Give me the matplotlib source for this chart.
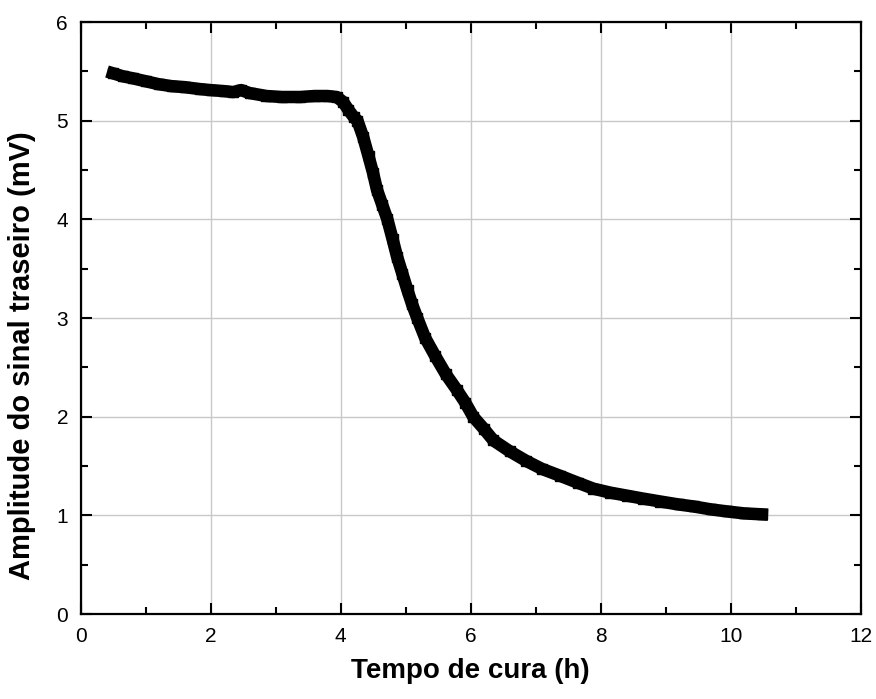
import matplotlib
matplotlib.use("Agg")
import matplotlib.pyplot as plt
from matplotlib.ticker import MultipleLocator

# cure time (h) and back-signal amplitude (mV)
tempo = [0.50, 0.65, 0.80, 1.00, 1.20, 1.40, 1.60, 1.84, 2.00, 2.20,
         2.35, 2.47, 2.60, 2.86, 3.10, 3.38, 3.60, 3.80, 3.94, 4.04,
         4.12, 4.20, 4.26, 4.35, 4.43, 4.50, 4.56, 4.64, 4.72, 4.80,
         4.87, 4.95, 5.03, 5.10, 5.18, 5.30, 5.46, 5.62, 5.79, 5.92,
         6.04, 6.20, 6.35, 6.60, 6.86, 7.10, 7.38, 7.65, 7.89, 8.15,
         8.40, 8.65, 8.92, 9.20, 9.43, 9.70, 9.94, 10.20, 10.48]
amplitude = [5.48, 5.45, 5.43, 5.40, 5.37, 5.35, 5.34, 5.32, 5.31, 5.30,
             5.29, 5.31, 5.28, 5.25, 5.24, 5.24, 5.25, 5.25, 5.24, 5.19,
             5.11, 5.04, 5.00, 4.83, 4.64, 4.47, 4.30, 4.15, 4.00, 3.80,
             3.62, 3.45, 3.28, 3.14, 3.00, 2.80, 2.61, 2.43, 2.27, 2.14,
             2.00, 1.88, 1.76, 1.65, 1.55, 1.47, 1.40, 1.33, 1.27, 1.23,
             1.20, 1.17, 1.14, 1.11, 1.09, 1.06, 1.04, 1.02, 1.01]

plt.rcParams['font.family'] = ['Liberation Sans', 'DejaVu Sans']

fig = plt.figure(figsize=(8.76, 6.99), dpi=100)
ax = fig.add_axes([0.0919, 0.1216, 0.8906, 0.8469])

ax.plot(tempo, amplitude, 's-', color='black', ms=6.5, lw=9,
        solid_capstyle='projecting', solid_joinstyle='round', zorder=3)

ax.set_xlim(0, 12)
ax.set_ylim(0, 6)
ax.xaxis.set_major_locator(MultipleLocator(2))
ax.xaxis.set_minor_locator(MultipleLocator(1))
ax.yaxis.set_major_locator(MultipleLocator(1))
ax.yaxis.set_minor_locator(MultipleLocator(0.5))

ax.grid(True, which='major', color='#c8c8c8', lw=1.0)
ax.set_axisbelow(True)

ax.tick_params(which='both', direction='in', top=True, right=True,
               width=1.5, labelsize=15)
ax.tick_params(which='major', length=8, pad=9)
ax.tick_params(which='minor', length=5)
for s in ax.spines.values():
    s.set_linewidth(1.6)

ax.set_xlabel('Tempo de cura (h)', fontsize=20, fontweight='bold')
ax.set_ylabel('Amplitude do sinal traseiro (mV)', fontsize=21,
              fontweight='bold')
ax.xaxis.set_label_coords(0.5, -0.075)
ax.yaxis.set_label_coords(-0.057, 0.436)

fig.savefig('out.png', dpi=100)
